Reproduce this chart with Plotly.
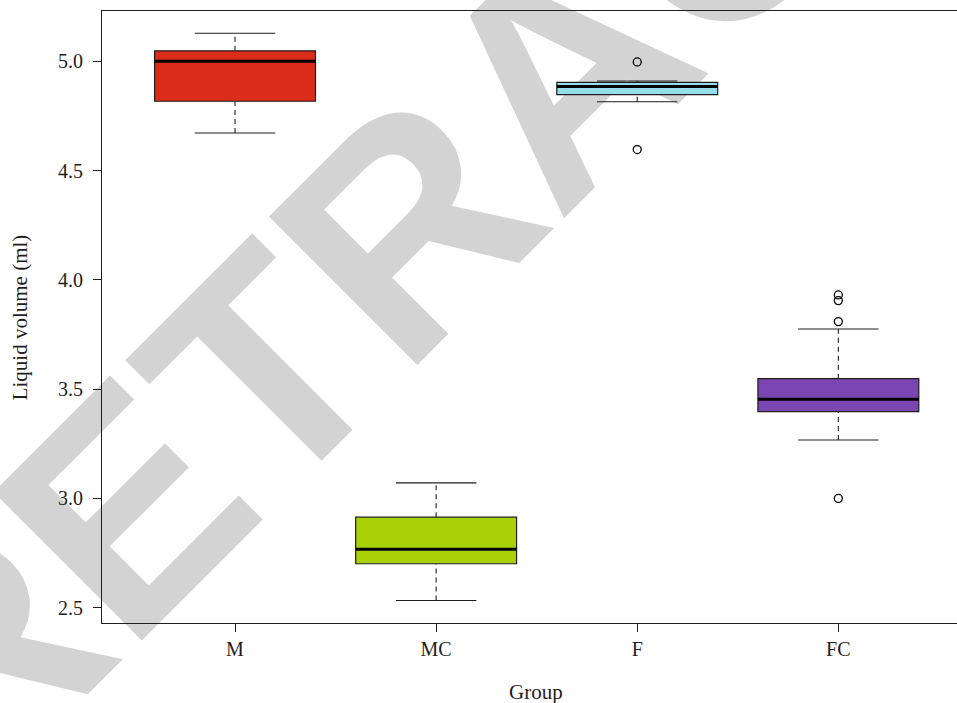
import plotly.graph_objects as go

# ---- data ----
groups = ["M", "MC", "F", "FC"]
positions = [1, 2, 3, 4]
q1 = [4.817, 2.701, 4.847, 3.397]
median = [5.000, 2.767, 4.885, 3.454]
q3 = [5.048, 2.914, 4.903, 3.548]
lower_whisker = [4.672, 2.533, 4.815, 3.267]
upper_whisker = [5.128, 3.071, 4.910, 3.775]
fill_colors = ["#DB2C1A", "#A8D108", "#97DCEA", "#7B46B1"]

outlier_group = ["F", "F", "FC", "FC", "FC", "FC"]
outlier_value = [4.997, 4.596, 3.931, 3.905, 3.809, 3.000]

y_tick_values = [2.5, 3.0, 3.5, 4.0, 4.5, 5.0]

# ---- style ----
BOX_W = 0.8
CAP_W = 0.4
INK = "#1e1e1e"
SERIF = "Liberation Serif, Times New Roman, serif"

fig = go.Figure()

for g, pos, a, m, b, lo, hi, col in zip(groups, positions, q1, median, q3,
                                        lower_whisker, upper_whisker, fill_colors):
    # box body
    fig.add_trace(go.Box(
        x=[pos], q1=[a], median=[m], q3=[b], lowerfence=[a], upperfence=[b],
        width=BOX_W, fillcolor=col, line=dict(color=INK, width=1.2),
        boxpoints=False, hoverinfo="skip", name=g,
    ))
    # dashed whiskers
    fig.add_trace(go.Scatter(
        x=[pos, pos, None, pos, pos], y=[b, hi, None, lo, a], mode="lines",
        line=dict(color=INK, width=1.1, dash="5px,4px"), hoverinfo="skip",
    ))
    # whisker caps
    fig.add_trace(go.Scatter(
        x=[pos - CAP_W / 2, pos + CAP_W / 2, None, pos - CAP_W / 2, pos + CAP_W / 2],
        y=[hi, hi, None, lo, lo], mode="lines",
        line=dict(color=INK, width=1.1), hoverinfo="skip",
    ))
    # thick median
    fig.add_trace(go.Scatter(
        x=[pos - BOX_W / 2, pos + BOX_W / 2], y=[m, m], mode="lines",
        line=dict(color="#000000", width=3), hoverinfo="skip",
    ))

# outliers
fig.add_trace(go.Scatter(
    x=[positions[groups.index(g)] for g in outlier_group], y=outlier_value,
    mode="markers",
    marker=dict(symbol="circle-open", size=8, color="#000000", line=dict(width=1.3)),
    hoverinfo="skip",
))

# watermark placement (pixel centre converted to paper units of the plot area)
wm_cx = (541.4 - 102) / 855
wm_cy = (623 - 50.6) / 612
dx, dy = 50 / 855, 50 / 612

fig.update_layout(
    width=957, height=703,
    margin=dict(l=102, r=0, t=11, b=80, pad=0),
    paper_bgcolor="white", plot_bgcolor="white",
    showlegend=False,
    font=dict(family=SERIF, size=20, color=INK),
    xaxis=dict(
        range=[0.3386, 4.590], tickmode="array", tickvals=positions, ticktext=groups,
        showline=True, linecolor=INK, linewidth=1.2, mirror=True,
        ticks="outside", ticklen=8, tickwidth=1.2, tickcolor=INK,
        showgrid=False, zeroline=False, ticklabelstandoff=0,
        tickfont=dict(family=SERIF, size=20, color=INK),
    ),
    yaxis=dict(
        range=[2.430, 5.230], tickmode="array", tickvals=y_tick_values,
        ticktext=[f"{v:.1f}" for v in y_tick_values],
        showline=True, linecolor=INK, linewidth=1.2, mirror=False,
        ticks="outside", ticklen=8, tickwidth=1.2, tickcolor=INK,
        showgrid=False, zeroline=False, ticklabelstandoff=6,
        tickfont=dict(family=SERIF, size=20, color=INK),
    ),
    annotations=[
        dict(text="Group", xref="paper", yref="paper", x=0.508, y=-0.112,
             xanchor="center", yanchor="middle", showarrow=False,
             font=dict(family=SERIF, size=21, color=INK)),
        dict(text="Liquid volume (ml)", xref="paper", yref="paper", x=-0.0955, y=0.5,
             xanchor="center", yanchor="middle", textangle=-90, showarrow=False,
             font=dict(family=SERIF, size=21, color=INK)),
    ],
    shapes=[
        dict(type="line", xref="paper", yref="paper",
             x0=wm_cx - dx, y0=wm_cy - dy, x1=wm_cx + dx, y1=wm_cy + dy,
             line=dict(color="rgba(0,0,0,0)", width=0), layer="below",
             label=dict(text="<b>RETRACTED</b>", textangle=-45, textposition="middle",
                        xanchor="center", yanchor="middle", padding=0,
                        font=dict(family="Liberation Sans, Arial, sans-serif",
                                  size=305, color="#D3D3D3"))),
    ],
)

fig.write_html("out.html")
